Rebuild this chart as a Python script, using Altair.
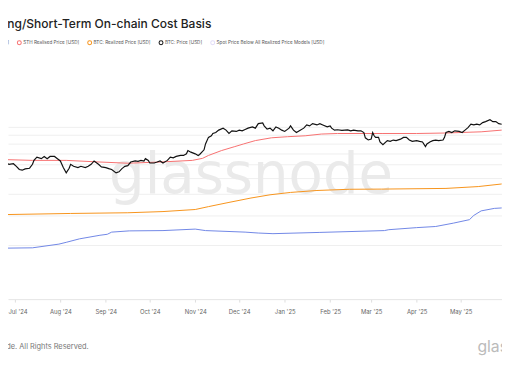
import altair as alt
import pandas as pd

title_text = "Long/Short-Term On-chain Cost Basis"
footer_text = "© 2025 Glassnode. All Rights Reserved."
brand_text = "glassnode"

series_names = [
    "LTH Realised Price [USD]",
    "STH Realised Price [USD]",
    "BTC: Realized Price [USD]",
    "BTC: Price [USD]",
    "Spot Price Below All Realized Price Models [USD]",
]
series_colors = ["#6f86e6", "#f76f6f", "#f7931a", "#111111", "#e2dcf8"]

price_dates = [
    "2024-06-21", "2024-06-23", "2024-06-25", "2024-06-27", "2024-06-30", "2024-07-02",
    "2024-07-04", "2024-07-06", "2024-07-08", "2024-07-11", "2024-07-13", "2024-07-14",
    "2024-07-16", "2024-07-19", "2024-07-21", "2024-07-23", "2024-07-25", "2024-07-28",
    "2024-07-30", "2024-08-01", "2024-08-03", "2024-08-05", "2024-08-07", "2024-08-08",
    "2024-08-10", "2024-08-13", "2024-08-15", "2024-08-18", "2024-08-20", "2024-08-22",
    "2024-08-24", "2024-08-27", "2024-08-29", "2024-09-01", "2024-09-03", "2024-09-05",
    "2024-09-08", "2024-09-10", "2024-09-12", "2024-09-14", "2024-09-16", "2024-09-18",
    "2024-09-21", "2024-09-23", "2024-09-25", "2024-09-27", "2024-09-28", "2024-09-30",
    "2024-10-01", "2024-10-04", "2024-10-06", "2024-10-08", "2024-10-10", "2024-10-13",
    "2024-10-15", "2024-10-17", "2024-10-19", "2024-10-22", "2024-10-24", "2024-10-26",
    "2024-10-27", "2024-10-29", "2024-11-01", "2024-11-03", "2024-11-04", "2024-11-07",
    "2024-11-08", "2024-11-10", "2024-11-12", "2024-11-13", "2024-11-15", "2024-11-17",
    "2024-11-20", "2024-11-22", "2024-11-24", "2024-11-26", "2024-11-29", "2024-12-01",
    "2024-12-03", "2024-12-05", "2024-12-07", "2024-12-10", "2024-12-12", "2024-12-14",
    "2024-12-17", "2024-12-18", "2024-12-20", "2024-12-22", "2024-12-24", "2024-12-26",
    "2024-12-28", "2024-12-30", "2025-01-01", "2025-01-04", "2025-01-05", "2025-01-07",
    "2025-01-09", "2025-01-11", "2025-01-14", "2025-01-16", "2025-01-18", "2025-01-20",
    "2025-01-23", "2025-01-25", "2025-01-27", "2025-01-30", "2025-02-01", "2025-02-02",
    "2025-02-04", "2025-02-06", "2025-02-09", "2025-02-11", "2025-02-13", "2025-02-15",
    "2025-02-17", "2025-02-20", "2025-02-22", "2025-02-24", "2025-02-25", "2025-02-27",
    "2025-03-01", "2025-03-02", "2025-03-03", "2025-03-04", "2025-03-06", "2025-03-07",
    "2025-03-09", "2025-03-12", "2025-03-14", "2025-03-16", "2025-03-18", "2025-03-21",
    "2025-03-23", "2025-03-25", "2025-03-27", "2025-03-29", "2025-04-01", "2025-04-03",
    "2025-04-05", "2025-04-07", "2025-04-08", "2025-04-10", "2025-04-12", "2025-04-14",
    "2025-04-16", "2025-04-19", "2025-04-20", "2025-04-21", "2025-04-23", "2025-04-25",
    "2025-04-27", "2025-04-30", "2025-05-02", "2025-05-04", "2025-05-06", "2025-05-08",
    "2025-05-10", "2025-05-12", "2025-05-14", "2025-05-16", "2025-05-18", "2025-05-21",
    "2025-05-23", "2025-05-25", "2025-05-27", "2025-05-29",
]
price_vals = [
    63400, 60100, 61200, 60100, 60600, 58500,
    56000, 55500, 56500, 57000, 60100, 63400,
    66300, 64900, 66900, 64900, 66900, 66900,
    64900, 62900, 57500, 53500, 57000, 60100,
    58500, 57500, 58500, 57500, 58500, 60100,
    62900, 60100, 58000, 57500, 56700, 56000,
    53500, 54300, 56700, 58500, 59000, 62000,
    62900, 62600, 63400, 62900, 64900, 63400,
    61200, 61200, 62000, 62900, 61200, 63400,
    66300, 65700, 66900, 67800, 67800, 69300,
    72500, 70900, 69300, 67800, 68700, 73200,
    79300, 86700, 88600, 91400, 92600, 95700,
    98300, 95700, 91400, 94800, 94000, 95700,
    94800, 96500, 98300, 100000, 98300, 104500,
    105500, 101400, 97000, 98300, 94800, 100000,
    98300, 95700, 94000, 98300, 101400, 95700,
    92600, 94800, 98300, 102700, 101400, 104500,
    102700, 104500, 102700, 100000, 101400, 98300,
    95700, 96200, 95400, 95700, 96000, 94800,
    95700, 94800, 94800, 92600, 86200, 83700,
    84700, 92600, 88600, 86700, 86700, 81400,
    78600, 82900, 82100, 83600, 82900, 84600,
    86700, 86700, 83600, 82100, 82900, 82100,
    81400, 76500, 79300, 81400, 82900, 83600,
    82900, 83600, 86700, 92600, 94000, 92600,
    94800, 94000, 92600, 95700, 99000, 103700,
    102700, 103700, 102700, 106000, 107400, 110200,
    107400, 107400, 104500, 103700,
]

sth_dates = [
    "2024-06-21", "2024-07-13", "2024-08-05", "2024-08-28", "2024-09-16", "2024-10-08",
    "2024-10-30", "2024-11-06", "2024-11-10", "2024-11-19", "2024-11-28", "2024-12-04",
    "2024-12-12", "2024-12-23", "2025-01-03", "2025-01-15", "2025-01-26", "2025-02-06",
    "2025-03-09", "2025-04-01", "2025-04-21", "2025-05-15", "2025-05-29",
]
sth_vals = [
    64200, 63400, 63400, 62000, 61000, 62000,
    63400, 65200, 67800, 72500, 76500, 79300,
    83000, 86200, 87500, 88600, 90700, 91400,
    91400, 91400, 92000, 93500, 95700,
]

realized_dates = [
    "2024-06-21", "2024-08-08", "2024-09-16", "2024-10-10", "2024-11-01", "2024-11-10",
    "2024-11-24", "2024-12-09", "2024-12-22", "2025-01-05", "2025-01-23", "2025-02-14",
    "2025-03-08", "2025-04-21", "2025-05-13", "2025-05-29",
]
realized_vals = [
    30300, 30800, 31100, 31600, 32500, 33800,
    35800, 38000, 39700, 41000, 42100, 42800,
    42900, 43300, 44400, 46000,
]

lth_dates = [
    "2024-06-21", "2024-07-13", "2024-07-31", "2024-08-05", "2024-08-14", "2024-08-28",
    "2024-09-02", "2024-09-05", "2024-09-17", "2024-10-10", "2024-11-01", "2024-11-08",
    "2024-12-05", "2024-12-14", "2024-12-24", "2025-01-25", "2025-03-10", "2025-03-13",
    "2025-04-01", "2025-04-14", "2025-04-26", "2025-05-07", "2025-05-10", "2025-05-15",
    "2025-05-24", "2025-05-29",
]
lth_vals = [
    19200, 19300, 20300, 20800, 21800, 22900,
    23200, 23900, 24300, 24400, 24900, 24400,
    23900, 23600, 23400, 23800, 24400, 24700,
    25400, 25800, 27000, 28300, 30000, 31900,
    33000, 33200,
]

grid_values = [20000, 30000, 40000, 50000, 60000, 70000, 80000, 90000, 100000]


def frame(dates, vals, name):
    return pd.DataFrame({"date": dates, "value": vals, "series": name})


x_scale = alt.Scale(
    type="utc",
    domain=[
        alt.DateTime(year=2024, month=6, date=26, hours=7, utc=True),
        alt.DateTime(year=2025, month=5, date=29, hours=5, utc=True),
    ],
)
y_scale = alt.Scale(type="log", domain=[9608, 241900], nice=False)

x_axis = alt.Axis(
    format="%b '%y",
    tickCount={"interval": "month", "step": 1},
    labelFontSize=6,
    labelColor="#666666",
    labelPadding=7,
    tickColor="#dddddd",
    tickSize=3,
    domainColor="#e6e6e6",
    grid=False,
    labelBound=False,
    labelFlush=12,
    labelFlushOffset=7,
)
y_axis = alt.Axis(
    values=grid_values,
    labels=False,
    ticks=False,
    domain=False,
    grid=True,
    gridColor="#efefef",
    gridWidth=1,
)

color = alt.Color(
    "series:N",
    scale=alt.Scale(domain=series_names, range=series_colors),
    legend=alt.Legend(
        orient="none",
        legendX=-61.5,
        legendY=-22,
        direction="horizontal",
        columns=5,
        title=None,
        symbolType="circle",
        symbolSize=1,
        symbolStrokeWidth=4,
        labelFontSize=4.7,
        labelFont="Inter",
        labelColor="#555555",
        columnPadding=1.5,
        labelOffset=1.5,
        padding=0,
    ),
)


def line(df, width):
    return alt.Chart(df).mark_line(strokeWidth=width, clip=True).encode(
        x=alt.X("date:T", scale=x_scale, axis=x_axis, title=None),
        y=alt.Y("value:Q", scale=y_scale, axis=y_axis, title=None),
        color=color,
    )


def label(text, x, y, **kw):
    return alt.Chart(pd.DataFrame({"t": [text]})).mark_text(**kw).encode(
        text="t:N", x=alt.value(x), y=alt.value(y)
    )


watermark = label(brand_text, 247, 133, font="DejaVu Sans", fontSize=57,
                  color="#eaeaea", align="center", baseline="alphabetic")
title = label(title_text, -15, -34, font="Inter", fontSize=12.2, fontWeight=500,
              color="#222222", align="left", baseline="alphabetic")
footer = label(footer_text, 82, 292, font="Inter", fontSize=7.5,
               color="#777777", align="right", baseline="alphabetic")
brand = label(brand_text, 477, 295, font="Inter", fontSize=16,
              color="#bbbbbb", align="left", baseline="alphabetic")

chart = alt.layer(
    watermark,
    line(frame(lth_dates, lth_vals, series_names[0]), 1),
    line(frame(realized_dates, realized_vals, series_names[2]), 1),
    line(frame(sth_dates, sth_vals, series_names[1]), 1),
    line(frame(price_dates, price_vals, series_names[3]), 1.2),
    title,
    footer,
    brand,
).properties(
    width=502,
    height=241,
    autosize=alt.AutoSizeParams(type="none"),
    padding={"left": 0, "top": 52, "right": 0, "bottom": 55},
).configure(
    font="Inter", background="white"
).configure_view(stroke=None)

chart.save("out.html", embed_options={"renderer": "svg", "actions": False})
